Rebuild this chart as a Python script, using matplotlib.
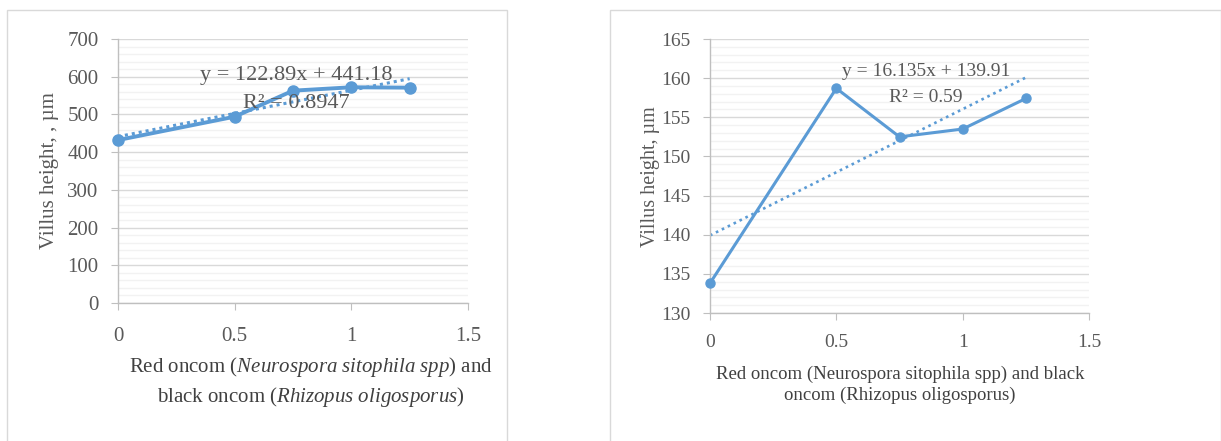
import matplotlib
matplotlib.use("Agg")
import matplotlib.pyplot as plt
from matplotlib.patches import Rectangle
from matplotlib.ticker import MultipleLocator
import numpy as np

# data
doses = [0, 0.5, 0.75, 1, 1.25]
villus_left = [432, 494, 563, 572, 571]
villus_right = [133.8, 158.7, 152.5, 153.5, 157.4]

# trendline equations as printed on the chart
trend_left = (122.89, 441.18)
trend_right = (16.135, 139.91)
eq_left = ["y = 122.89x + 441.18", "R² = 0.8947"]
eq_right = ["y = 16.135x + 139.91", "R² = 0.59"]

plt.rcParams["font.family"] = "Liberation Serif"
plt.rcParams["mathtext.fontset"] = "custom"
plt.rcParams["mathtext.rm"] = "Liberation Serif"
plt.rcParams["mathtext.it"] = "Liberation Serif:italic"

W, H = 1221, 441
blue = "#5B9BD5"
txt = "#595959"
spine = "#BFBFBF"

fig = plt.figure(figsize=(W / 100, H / 100), dpi=100)


def px(x0, y0, x1, y1):
    return [x0 / W, 1 - y1 / H, (x1 - x0) / W, (y1 - y0) / H]


# chart borders
fig.patches.append(Rectangle((7 / W, -0.05), 500 / W, 1 - 10 / H + 0.05,
                             transform=fig.transFigure, fill=False, ec="#D9D9D9", lw=1))
fig.patches.append(Rectangle((610 / W, -0.05), 0.5, 1 - 10 / H + 0.05,
                             transform=fig.transFigure, fill=False, ec="#D9D9D9", lw=1))


def setup(ax, ymin, ymax, ymaj, ymin_step, fs, xpad):
    ax.set_xlim(0, 1.5)
    ax.set_ylim(ymin, ymax)
    ax.xaxis.set_major_locator(MultipleLocator(0.5))
    ax.yaxis.set_major_locator(MultipleLocator(ymaj))
    ax.yaxis.set_minor_locator(MultipleLocator(ymin_step))
    ax.grid(which="major", axis="y", color="#D9D9D9", lw=1)
    ax.grid(which="minor", axis="y", color="#F2F2F2", lw=1)
    ax.set_axisbelow(True)
    for s in ["top", "right"]:
        ax.spines[s].set_visible(False)
    for s in ["left", "bottom"]:
        ax.spines[s].set_color(spine)
        ax.spines[s].set_linewidth(1)
    ax.tick_params(which="major", length=5, color=spine, labelcolor=txt, labelsize=fs)
    ax.tick_params(which="minor", length=0)
    ax.tick_params(axis="y", pad=9)
    ax.tick_params(axis="x", pad=xpad)
    ax.xaxis.set_major_formatter(matplotlib.ticker.FuncFormatter(lambda v, p: f"{v:g}"))


# left chart
ax1 = fig.add_axes(px(118, 39, 468, 303))
setup(ax1, 0, 700, 100, 20, 15, 12)
xt = np.array([doses[0], doses[-1]])
ax1.plot(xt, trend_left[0] * xt + trend_left[1], ls=(0, (1, 1.3)), color=blue, lw=2.2)
ax1.plot(doses, villus_left, color=blue, lw=2.8, marker="o", ms=8, clip_on=False, zorder=3)
ax1.text(0.763, 604, eq_left[0], ha="center", va="center", color=txt, fontsize=16)
ax1.text(0.763, 530, eq_left[1], ha="center", va="center", color=txt, fontsize=16)
fig.text(50 / W, 1 - 171 / H, "Villus height, , µm", rotation=90, ha="center", va="center",
         color=txt, fontsize=15)
fig.text(311 / W, 1 - 382 / H,
         "Red oncom ($\\mathit{Neurospora\\ sitophila\\ spp}$) and\n"
         "black oncom ($\\mathit{Rhizopus\\ oligosporus}$)",
         ha="center", va="center", multialignment="center", color="#404040", fontsize=15,
         linespacing=1.3)

# right chart
ax2 = fig.add_axes(px(710, 39, 1089, 313))
setup(ax2, 130, 165, 5, 1, 14, 10)
ax2.plot(xt, trend_right[0] * xt + trend_right[1], ls=(0, (1, 1.5)), color=blue, lw=1.9)
ax2.plot(doses, villus_right, color=blue, lw=2.2, marker="o", ms=6.5, clip_on=False, zorder=3)
ax2.text(0.855, 160.8, eq_right[0], ha="center", va="center", color=txt, fontsize=14)
ax2.text(0.855, 157.5, eq_right[1], ha="center", va="center", color=txt, fontsize=14)
fig.text(650 / W, 1 - 177 / H, "Villus height, µm", rotation=90, ha="center", va="center",
         color=txt, fontsize=14.5)
fig.text(900 / W, 1 - 385 / H,
         "Red oncom (Neurospora sitophila spp) and black\noncom (Rhizopus oligosporus)",
         ha="center", va="center", multialignment="center", color="#404040", fontsize=13.5,
         linespacing=1.3)

fig.savefig("out.png", dpi=100)
